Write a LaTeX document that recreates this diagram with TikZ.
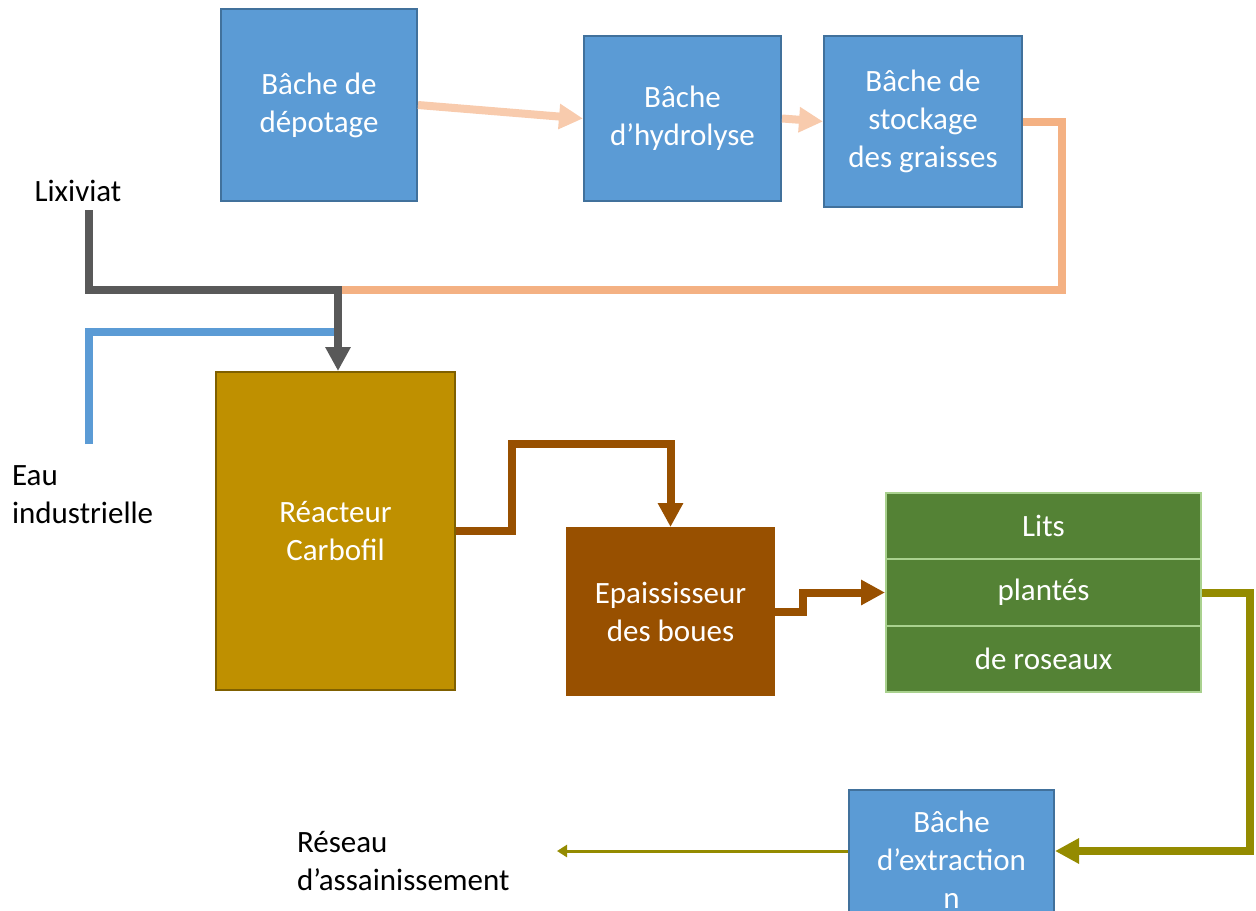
\documentclass[tikz,border=0pt]{standalone}
\usepackage{fontspec}
\setmainfont{Carlito}
\usetikzlibrary{arrows.meta, positioning}

\definecolor{bluefill}{HTML}{5B9BD5}
\definecolor{blueedge}{HTML}{41719C}
\definecolor{peachlight}{HTML}{F8CBAD}
\definecolor{peachdark}{HTML}{F4B183}
\definecolor{graypipe}{HTML}{595959}
\definecolor{goldfill}{HTML}{BF9000}
\definecolor{goldedge}{HTML}{7F6000}
\definecolor{brownfill}{HTML}{985000}
\definecolor{greenfill}{HTML}{548235}
\definecolor{greenedge}{HTML}{A9D18E}
\definecolor{olivepipe}{HTML}{948B00}

\begin{document}
\begin{tikzpicture}[x=0.5pt, y=-0.5pt,
    every node/.style={font=\fontsize{15.5}{19}\selectfont},
    procbox/.style={draw, rectangle, line width=1pt, text=white, align=center, inner sep=0pt},
    bluebox/.style={procbox, draw=blueedge, fill=bluefill},
    litscell/.style={procbox, draw=greenedge, fill=greenfill, minimum width=157.5pt, minimum height=33.2pt},
    pipe/.style={line width=4pt},
    head/.style={-{Triangle[width=12pt, length=12pt]}},
    thinhead/.style={-{Triangle[width=6pt, length=5pt]}}]
    \useasboundingbox (0,0) rectangle (1256,910);

    \node[bluebox, minimum width=98pt, minimum height=96pt] (depot) at (319,105) {Bâche de\\dépotage};
    \node[bluebox, minimum width=98.5pt, minimum height=82.5pt] (hydro) at (682.5,118.5) {Bâche\\d’hydrolyse};
    \node[bluebox, minimum width=99pt, minimum height=85.5pt] (stock) at (923,121.5) {Bâche de\\stockage\\des graisses};
    \node[procbox, draw=goldedge, fill=goldfill, minimum width=119.5pt, minimum height=159pt] (reactor) at (335.5,531) {Réacteur\\Carbofil};
    \node[procbox, draw=brownfill, fill=brownfill, minimum width=103.5pt, minimum height=83.5pt] (epais) at (670.5,611.5) {Epaississeur\\des boues};
    \node[litscell] (lits1) at (1043.5,526) {Lits};
    \node[litscell] (lits2) at (1043.5,592.5) {plantés};
    \node[litscell] (lits3) at (1043.5,659) {de roseaux};
    \node[bluebox, minimum width=102.5pt, minimum height=70pt] (extr) at (951.5,860) {Bâche\\d’extraction\\n};

    \node (lixiviat) at (78,191) {Lixiviat};
    \node[anchor=west, align=left] (eau) at (5,495) {Eau\\industrielle};
    \node[anchor=west, align=left] (reseau) at (290,861) {Réseau\\d’assainissement};

    \coordinate (join) at (338,290);
    \coordinate (lixsrc) at (89,210);
    \coordinate (eausrc) at (89,444);
    \coordinate (eauend) at (334,332);
    \coordinate (reseauend) at (557,851);

    \draw[pipe, peachlight, head] (depot.east) -- (hydro.west);
    \draw[pipe, peachlight, head] (hydro.east) -- (stock.west);
    \draw[pipe, peachdark] (stock.east) -| (1062,290) -- (join);
    \draw[pipe, bluefill] (eausrc) |- (eauend);
    \draw[pipe, graypipe, head] (lixsrc) |- (join) -- (join |- reactor.north);
    \draw[pipe, brownfill, head] (reactor.east) -| (512,444) -| (epais.north);
    \draw[pipe, brownfill, head] (epais.east) -- ++(28,0) |- (lits2.west);
    \draw[pipe, olivepipe, head] (lits2.east) -- ++(48,0) |- (extr.east |- reseauend);
    \draw[line width=1.5pt, olivepipe, thinhead] (extr.west |- reseauend) -- (reseauend);
\end{tikzpicture}
\end{document}
